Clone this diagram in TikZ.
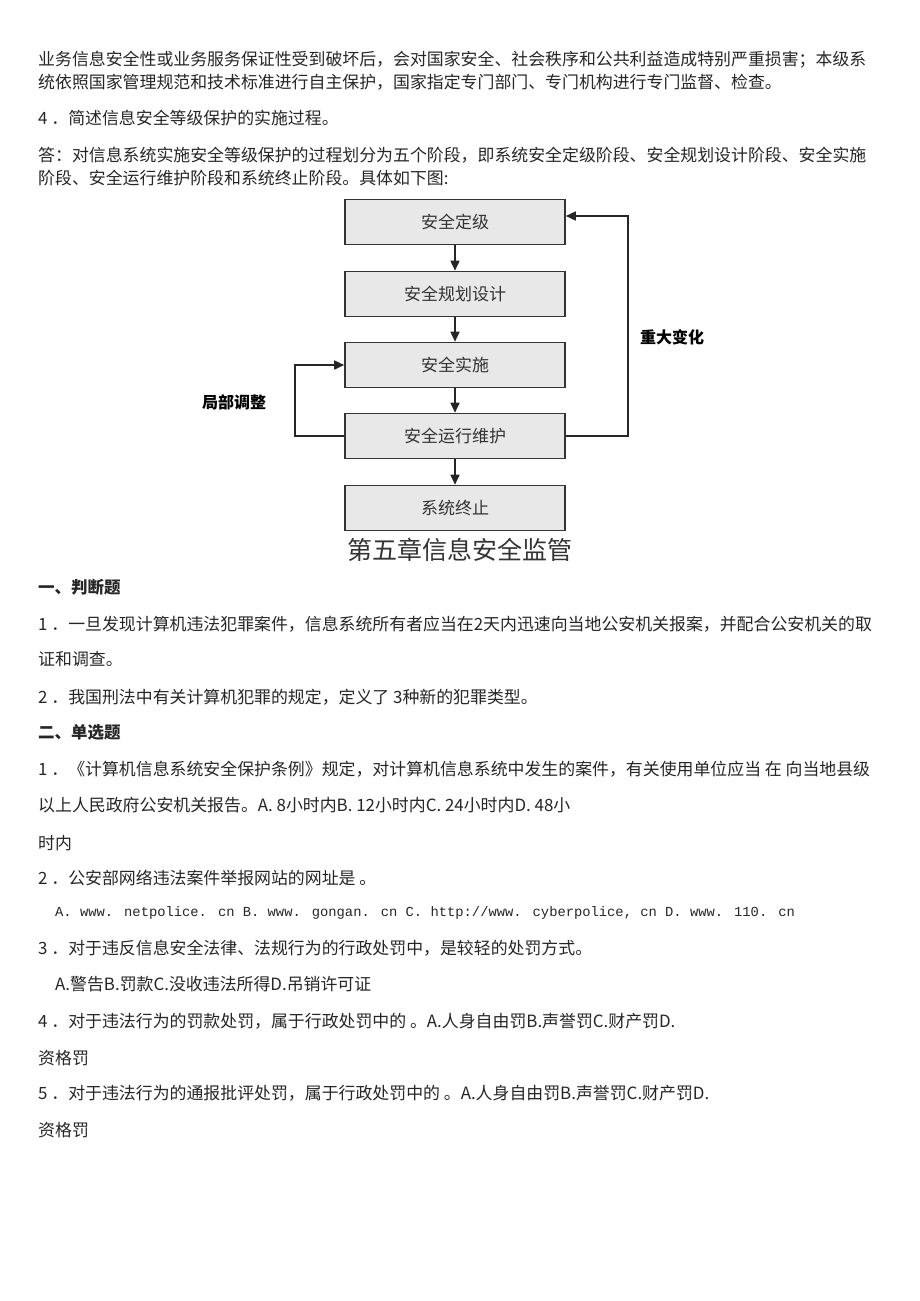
\documentclass[tikz,border=0pt]{standalone}
\usepackage{fontspec}
\setmainfont{Noto Sans CJK SC}
\newfontfamily\monof{Liberation Mono}
\usetikzlibrary{arrows.meta}
\begin{document}
\begin{tikzpicture}[x=1pt,y=-1pt,
  txt/.style={anchor=west,inner sep=0pt,text=black!85,font=\fontsize{16.9}{17}\selectfont},
  hd/.style={txt,font=\fontsize{16.5}{17}\selectfont\bfseries},
  stepbox/.style={draw=black!80,line width=1.6pt,fill=black!9,minimum width=220pt,minimum height=45pt,inner sep=0pt,font=\fontsize{17}{17}\selectfont,text=black!80},
  arr/.style={-{Triangle[length=10pt,width=9pt]},line width=1.6pt,draw=black!85},
  lab/.style={inner sep=0pt,font=\fontsize{16}{16}\selectfont\bfseries}]
\useasboundingbox[fill=white] (0,0) rectangle (920,1301);
\node[txt] (l1) at (38,60) {业务信息安全性或业务服务保证性受到破坏后，会对国家安全、社会秩序和公共利益造成特别严重损害；本级系};
\node[txt] (l2) at (38,82) {统依照国家管理规范和技术标准进行自主保护，国家指定专门部门、专门机构进行专门监督、检查。};
\node[txt] (l3) at (38,118) {4 ．简述信息安全等级保护的实施过程。};
\node[txt] (l4) at (38,155) {答：对信息系统实施安全等级保护的过程划分为五个阶段，即系统安全定级阶段、安全规划设计阶段、安全实施};
\node[txt] (l5) at (38,178) {阶段、安全运行维护阶段和系统终止阶段。具体如下图:};
% diagram
\node[stepbox] (b1) at (455,222) {安全定级};
\node[stepbox] (b2) at (455,294) {安全规划设计};
\node[stepbox] (b3) at (455,365) {安全实施};
\node[stepbox] (b4) at (455,436) {安全运行维护};
\node[stepbox] (b5) at (455,508) {系统终止};
\draw[arr] (b1) -- (b2);
\draw[arr] (b2) -- (b3);
\draw[arr] (b3) -- (b4);
\draw[arr] (b4) -- (b5);
\coordinate (r1) at (628,436);
\coordinate (r2) at (628,216);
\draw[arr] (b4.east) -- (r1) -- (r2) -- (b1.east |- r2);
\coordinate (q1) at (295,436);
\coordinate (q2) at (295,365);
\draw[arr] (b4.west) -- (q1) -- (q2) -- (b3.west);
\node[lab] (big) at (672,337) {重大变化};
\node[lab] (loc) at (234,402) {局部调整};
\node[inner sep=0pt,font=\fontsize{25}{25}\selectfont,text=black!80] (title) at (460,550) {第五章信息安全监管};
\node[hd] (h1) at (38,587) {一、判断题};
\node[txt] (p1) at (38,624) {1 ．一旦发现计算机违法犯罪案件，信息系统所有者应当在2天内迅速向当地公安机关报案，并配合公安机关的取};
\node[txt] (p2) at (38,659) {证和调查。};
\node[txt] (p3) at (38,697) {2 ．我国刑法中有关计算机犯罪的规定，定义了 3种新的犯罪类型。};
\node[hd] (h2) at (38,732) {二、单选题};
\node[txt] (s1) at (38,769) {1 ．《计算机信息系统安全保护条例》规定，对计算机信息系统中发生的案件，有关使用单位应当 在 向当地县级};
\node[txt] (s2) at (38,805) {以上人民政府公安机关报告。A. 8小时内B. 12小时内C. 24小时内D. 48小};
\node[txt] (s3) at (38,843) {时内};
\node[txt] (s4) at (38,878) {2 ．公安部网络违法案件举报网站的网址是 。};
\node[txt,font=\fontsize{13.8}{14}\selectfont\monof] (s5) at (55,913) {A. www. netpolice. cn B. www. gongan. cn C. http://www. cyberpolice, cn D. www. 110. cn};
\node[txt] (s6) at (38,948) {3 ．对于违反信息安全法律、法规行为的行政处罚中，是较轻的处罚方式。};
\node[txt] (s7) at (55,984) {A.警告B.罚款C.没收违法所得D.吊销许可证};
\node[txt] (s8) at (38,1021) {4 ．对于违法行为的罚款处罚，属于行政处罚中的 。A.人身自由罚B.声誉罚C.财产罚D.};
\node[txt] (s9) at (38,1058) {资格罚};
\node[txt] (s10) at (38,1093) {5 ．对于违法行为的通报批评处罚，属于行政处罚中的 。A.人身自由罚B.声誉罚C.财产罚D.};
\node[txt] (s11) at (38,1130) {资格罚};
\end{tikzpicture}
\end{document}
